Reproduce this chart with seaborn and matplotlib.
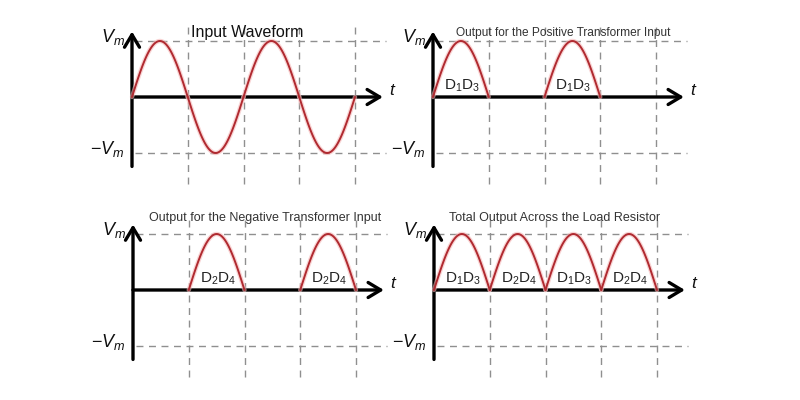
import numpy as np
import pandas as pd
import matplotlib
matplotlib.use("Agg")
import matplotlib.pyplot as plt
import seaborn as sns

# ---------------- data ----------------
half_cycle_starts = [0, 1, 2, 3]          # start of each half period (in half periods)
input_polarity    = [1, -1, 1, -1]
positive_polarity = [1, 0, 1, 0]
negative_polarity = [0, 1, 0, 1]
total_polarity    = [1, 1, 1, 1]
d13 = r"D$\mathregular{_1}$D$\mathregular{_3}$"
d24 = r"D$\mathregular{_2}$D$\mathregular{_4}$"
positive_labels = [d13, "", d13, ""]
negative_labels = ["", d24, "", d24]
total_labels    = [d13, d24, d13, d24]
no_labels = ["", "", "", ""]
titles = ["Input Waveform",
          "Output for the Positive Transformer Input",
          "Output for the Negative Transformer Input",
          "Total Output Across the Load Resistor"]
vm = 1.0   # peak amplitude V_m

sns.set_theme(style="white")
plt.rcParams["font.family"] = ["Liberation Sans", "DejaVu Sans"]
plt.rcParams["mathtext.fontset"] = "custom"
plt.rcParams["mathtext.rm"] = "Liberation Sans"
plt.rcParams["mathtext.it"] = "Liberation Sans:italic"
plt.rcParams["mathtext.default"] = "it"

W, H = 800, 400
fig = plt.figure(figsize=(8, 4), dpi=100)
fig.patch.set_facecolor("white")

UX, UY = 55.75, 56.0
XL, XR, YB, YT = -0.75, 4.85, -1.65, 1.45

panels = [
    ((132, 97), input_polarity, no_labels, titles[0], (2.06, 1.07), 11.5, "#111111"),
    ((433, 97), positive_polarity, positive_labels, titles[1], (2.33, 1.09), 8.6, "#333333"),
    ((133, 290), negative_polarity, negative_labels, titles[2], (2.37, 1.23), 9.0, "#333333"),
    ((434, 290), total_polarity, total_labels, titles[3], (2.17, 1.23), 9.0, "#333333"),
]

red = "#b02a30"
glow = "#f5b8b8"
dash_col = "#8f8f8f"

for (x0, y0), pol, labs, title, (tx, ty), tsize, tcol in panels:
    left = x0 + XL * UX
    right = x0 + XR * UX
    top = y0 - YT * UY
    bottom = y0 - YB * UY
    ax = fig.add_axes([left / W, 1 - bottom / H, (right - left) / W, (bottom - top) / H])
    ax.patch.set_alpha(0)

    # dashed guide lines
    for yy in (vm, -vm):
        ax.plot([0.05, 4.55], [yy, yy], color=dash_col, lw=1.0, dashes=(5, 4), zorder=1)
    for xx in half_cycle_starts[1:] + [4]:
        ax.plot([xx, xx], [-1.55, 1.3], color=dash_col, lw=1.0, dashes=(5, 4), zorder=1)

    # waveform
    rows = []
    s = np.linspace(0, 1, 60)
    for k, p in zip(half_cycle_starts, pol):
        if p == 0:
            continue
        for si in s:
            rows.append({"t": k + si, "v": p * vm * np.sin(np.pi * si), "piece": k})
    df = pd.DataFrame(rows)
    sns.lineplot(data=df, x="t", y="v", units="piece", estimator=None, sort=False,
                 ax=ax, color=glow, lw=3.2, alpha=0.6, zorder=4, legend=False)
    sns.lineplot(data=df, x="t", y="v", units="piece", estimator=None, sort=False,
                 ax=ax, color=red, lw=1.4, zorder=5, legend=False)
    ax.set_xlim(XL, XR)
    ax.set_ylim(YB, YT)
    ax.axis("off")

    # axes with arrows
    ax.annotate("", xy=(4.5, 0), xytext=(0, 0),
                arrowprops=dict(arrowstyle="->,head_length=0.75,head_width=0.45",
                                lw=2.4, color="black", shrinkA=0, shrinkB=0),
                zorder=3)
    ax.annotate("", xy=(0, 1.17), xytext=(0, -1.24),
                arrowprops=dict(arrowstyle="->,head_length=0.75,head_width=0.45",
                                lw=2.4, color="black", shrinkA=0, shrinkB=0),
                zorder=3)

    # labels
    ax.text(-0.13, 0.99, r"$V_{m}$", ha="right", va="baseline", fontsize=13, color="#111111")
    ax.text(-0.14, -1.01, r"$\mathregular{-}V_{m}$", ha="right", va="baseline", fontsize=13,
            color="#111111")
    ax.text(4.68, 0.04, r"$t$", ha="center", va="baseline", fontsize=12.5, color="#111111")
    ax.text(tx, ty, title, ha="center", va="baseline", fontsize=tsize, color=tcol)
    for k, lab in zip(half_cycle_starts, labs):
        if lab:
            ax.text(k + 0.52, 0.05, lab, ha="center", va="bottom", fontsize=11,
                    color="#222222", zorder=6)

fig.savefig("out.png", dpi=100, facecolor="white")
